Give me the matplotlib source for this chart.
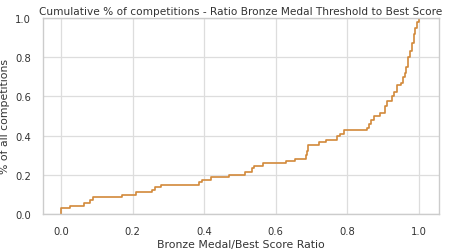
import matplotlib
matplotlib.use("Agg")
import matplotlib.pyplot as plt
import seaborn as sns

sns.set_style("whitegrid")
plt.rcParams['font.family'] = ['DejaVu Sans']

# Step positions (ratio) and cumulative share reached at each step
ratio = [0.0, 0.0, 0.025, 0.065, 0.08, 0.09, 0.17, 0.21, 0.255, 0.262, 0.28,
         0.385, 0.395, 0.42, 0.47, 0.515, 0.535, 0.54, 0.565, 0.63, 0.655,
         0.685, 0.688, 0.69, 0.72, 0.74, 0.77, 0.78, 0.79, 0.855, 0.86, 0.865,
         0.875, 0.89, 0.905, 0.91, 0.925, 0.93, 0.94, 0.95, 0.955, 0.96,
         0.965, 0.97, 0.975, 0.98, 0.985, 0.99, 0.995, 1.0, 1.005]
cum_share = [0.0, 0.03, 0.04, 0.055, 0.07, 0.085, 0.095, 0.11, 0.125, 0.14, 0.15,
             0.165, 0.175, 0.19, 0.2, 0.215, 0.235, 0.245, 0.26, 0.27, 0.28,
             0.30, 0.32, 0.35, 0.365, 0.38, 0.40, 0.41, 0.43, 0.44, 0.46, 0.48,
             0.50, 0.515, 0.55, 0.575, 0.60, 0.62, 0.66, 0.67, 0.70, 0.72,
             0.75, 0.80, 0.83, 0.87, 0.92, 0.95, 0.98, 1.0, 1.0]

title = "Cumulative % of competitions - Ratio Bronze Medal Threshold to Best Score"
xlabel = "Bronze Medal/Best Score Ratio"
ylabel = "% of all competitions"

fig = plt.figure(figsize=(4.49, 2.53), dpi=100)
ax = fig.add_axes([43/449, 38/253, 396/449, 196/253])
ax.step(ratio, cum_share, where='post', color='#d2893a', linewidth=1.2)
ax.set_xlim(-0.05, 1.056)
ax.set_ylim(0, 1.0)
ax.set_xticks([0.0, 0.2, 0.4, 0.6, 0.8, 1.0])
ax.set_yticks([0.0, 0.2, 0.4, 0.6, 0.8, 1.0])
ax.set_title(title, fontsize=7.6, color='#333333', pad=3)
ax.set_xlabel(xlabel, fontsize=7.8, color='#333333', labelpad=2)
ax.set_ylabel(ylabel, fontsize=7.8, color='#333333', labelpad=4)
ax.tick_params(labelsize=7.2, colors='#333333', pad=5)
ax.grid(True, color='#dddddd', linewidth=0.9)
for s in ax.spines.values():
    s.set_color('#cccccc')
    s.set_linewidth(1.0)
fig.savefig("out.png", dpi=100)
